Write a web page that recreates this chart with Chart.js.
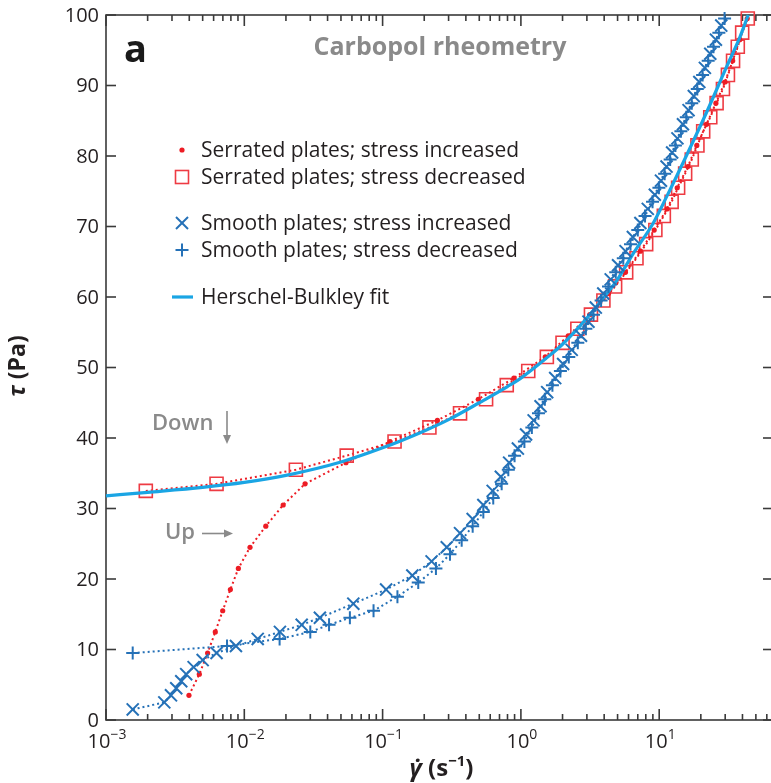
<!DOCTYPE html>
<html>
<head>
<meta charset="utf-8">
<script src="https://cdn.jsdelivr.net/npm/chart.js@4/dist/chart.umd.min.js"></script>
<style>
  html, body { margin: 0; padding: 0; background: #fff; overflow: hidden; }
  canvas { display: block; }
</style>
</head>
<body>
<canvas id="rheo" width="790" height="783" style="width:790px;height:783px"></canvas>
<script>
// Serrated plates, stress ramped up (shear rate in 1/s, stress in Pa)
const serratedUpRate = [0.00398, 0.00473, 0.00543, 0.00617, 0.00698, 0.00793, 0.00906, 0.0110, 0.0143, 0.0191,
  0.0275, 0.0543, 0.113, 0.249, 0.492, 0.89, 1.50, 2.2, 3.15, 4.3, 5.7, 7.3, 9.2, 11.4, 13.5, 16.1, 18.7,
  22.0, 25.7, 29.9, 34.0, 38.2, 43.3];
const serratedUpStress = [3.5, 6.5, 9.5, 12.5, 15.5, 18.5, 21.5, 24.5, 27.5, 30.5, 33.5, 36.5, 39.5, 42.5, 45.5,
  48.5, 51.5, 54.5, 57.5, 60.5, 63.5, 66.5, 69.5, 72.5, 75.5, 78.5, 81.5, 84.5, 87.5, 90.5, 93.5, 96.5, 99.5];

// Serrated plates, stress ramped down
const serratedDownRate = [0.00194, 0.0063, 0.0236, 0.055, 0.122, 0.218, 0.363, 0.56, 0.79, 1.13, 1.54, 2.0,
  2.56, 3.21, 3.95, 4.80, 5.77, 6.85, 8.05, 9.38, 10.8, 12.3, 13.7, 15.4, 17.2, 18.9, 20.8, 23.4, 26.0, 28.9,
  31.4, 34.2, 37.0, 39.8, 43.7];
const serratedDownStress = [32.5, 33.5, 35.5, 37.5, 39.5, 41.5, 43.5, 45.5, 47.5, 49.5, 51.5, 53.5, 55.5, 57.5,
  59.5, 61.5, 63.5, 65.5, 67.5, 69.5, 71.5, 73.5, 75.5, 77.5, 79.5, 81.5, 83.5, 85.5, 87.5, 89.5, 91.5, 93.5,
  95.5, 97.5, 99.5];

// Smooth plates, stress ramped up
const smoothUpRate = [0.00156, 0.00264, 0.00295, 0.00322, 0.0035, 0.0038, 0.0043, 0.0050, 0.0063, 0.0087,
  0.0125, 0.0181, 0.026, 0.0352, 0.0614, 0.106, 0.164, 0.226, 0.291, 0.363, 0.448, 0.535, 0.625, 0.716, 0.822,
  0.951, 1.09, 1.236, 1.387, 1.549, 1.77, 2.02, 2.33, 2.72, 3.08, 3.48, 3.94, 4.46, 5.04, 5.71, 6.45, 7.31,
  8.27, 9.3, 10.3, 11.3, 12.4, 13.55, 14.85, 16.3, 17.8, 19.5, 21.4, 23.4, 25.7, 28.1];
const smoothUpStress = [1.5, 2.5, 3.5, 4.5, 5.5, 6.5, 7.5, 8.5, 9.5, 10.5, 11.5, 12.5, 13.5, 14.5, 16.5, 18.5,
  20.5, 22.5, 24.5, 26.5, 28.5, 30.5, 32.5, 34.5, 36.5, 38.5, 40.5, 42.5, 44.5, 46.5, 48.5, 50.5, 52.5, 54.5,
  56.5, 58.5, 60.5, 62.5, 64.5, 66.5, 68.5, 70.5, 72.5, 74.5, 76.5, 78.5, 80.5, 82.5, 84.5, 86.5, 88.5, 90.5,
  92.5, 94.5, 96.5, 98.5];

// Smooth plates, stress ramped down
const smoothDownRate = [0.00156, 0.0075, 0.018, 0.030, 0.041, 0.058, 0.086, 0.128, 0.181, 0.243, 0.307, 0.373,
  0.448, 0.535, 0.631, 0.726, 0.811, 0.90, 1.06, 1.20, 1.34, 1.49, 1.69, 1.93, 2.22, 2.58, 2.95, 3.35, 3.80,
  4.30, 4.85, 5.50, 6.20, 7.0, 7.9, 8.95, 9.95, 10.95, 12.0, 13.1, 14.35, 15.7, 17.2, 18.85, 20.6, 22.6, 24.7,
  27.0, 29.7];
const smoothDownStress = [9.5, 10.5, 11.5, 12.5, 13.5, 14.5, 15.5, 17.5, 19.5, 21.5, 23.5, 25.5, 27.5, 29.5,
  31.5, 33.5, 35.5, 37.5, 39.5, 41.5, 43.5, 45.5, 47.5, 49.5, 51.5, 53.5, 55.5, 57.5, 59.5, 61.5, 63.5, 65.5,
  67.5, 69.5, 71.5, 73.5, 75.5, 77.5, 79.5, 81.5, 83.5, 85.5, 87.5, 89.5, 91.5, 93.5, 95.5, 97.5, 99.5];

// Herschel-Bulkley fit curve
const fitRate = [0.001, 0.002, 0.005, 0.01, 0.02, 0.05, 0.1, 0.2, 0.3, 0.5, 0.8, 1.0, 1.5, 2.0, 3.0, 4.0, 5.0,
  6.5, 9.0, 11.3, 15.6, 21.9, 30.8, 38.4, 44.0];
const fitStress = [31.8, 32.3, 33.0, 33.7, 34.7, 36.6, 38.6, 41.0, 42.6, 45.0, 47.3, 48.5, 51.2, 53.3, 57.0,
  60.0, 62.5, 66.2, 70.4, 74.2, 79.9, 86.1, 92.7, 96.9, 100.0];

// Axis ticks
const xTickPowers = [-3, -2, -1, 0, 1];
const yTickValues = [0, 10, 20, 30, 40, 50, 60, 70, 80, 90, 100];

const legendLabels = [
  'Serrated plates; stress increased',
  'Serrated plates; stress decreased',
  'Smooth plates; stress increased',
  'Smooth plates; stress decreased',
  'Herschel-Bulkley fit'
];

const FONT = '"Open Sans", "Noto Sans", "DejaVu Sans", sans-serif';
const INK = '#231f20';
const GREY = '#8a8a8a';
const RED = '#ed1c24';
const SQUARE_RED = '#ee3b43';
const BLUE = '#2571b7';
const CYAN = '#1aa5e4';

const zip = (xs, ys) => xs.map((x, i) => ({ x, y: ys[i] }));

const dotted = [2, 3];

const datasets = [
  {
    label: legendLabels[3],
    data: zip(smoothDownRate, smoothDownStress),
    showLine: true, borderColor: BLUE, borderWidth: 2, borderDash: dotted,
    pointStyle: 'cross', pointRadius: 6.5, pointBorderColor: BLUE, pointBorderWidth: 2,
    pointBackgroundColor: BLUE, clip: false, order: 1
  },
  {
    label: legendLabels[2],
    data: zip(smoothUpRate, smoothUpStress),
    showLine: true, borderColor: BLUE, borderWidth: 2, borderDash: dotted,
    pointStyle: 'crossRot', pointRadius: 8.5, pointBorderColor: BLUE, pointBorderWidth: 2,
    pointBackgroundColor: BLUE, clip: false, order: 2
  },
  {
    label: legendLabels[4],
    data: zip(fitRate, fitStress),
    showLine: true, borderColor: CYAN, borderWidth: 3.2, tension: 0.4, cubicInterpolationMode: 'monotone',
    pointRadius: 0, clip: false, order: 3
  },
  {
    label: legendLabels[0],
    data: zip(serratedUpRate, serratedUpStress),
    showLine: true, borderColor: RED, borderWidth: 2, borderDash: dotted,
    pointStyle: 'circle', pointRadius: 2.6, pointBorderWidth: 0, pointBackgroundColor: RED,
    clip: false, order: 4
  },
  {
    label: legendLabels[1],
    data: zip(serratedDownRate, serratedDownStress),
    showLine: true, borderColor: RED, borderWidth: 2, borderDash: dotted,
    pointStyle: 'rect', pointRadius: 9.2, pointBorderColor: SQUARE_RED, pointBorderWidth: 1.6,
    pointBackgroundColor: 'rgba(0,0,0,0)', clip: false, order: 5
  }
];

function line(ctx, x1, y1, x2, y2) {
  ctx.beginPath(); ctx.moveTo(x1, y1); ctx.lineTo(x2, y2); ctx.stroke();
}

function arrow(ctx, x1, y1, x2, y2) {
  const a = Math.atan2(y2 - y1, x2 - x1);
  const h = 9, w = 4;
  ctx.beginPath(); ctx.moveTo(x1, y1);
  ctx.lineTo(x2 - h * Math.cos(a), y2 - h * Math.sin(a)); ctx.stroke();
  ctx.beginPath();
  ctx.moveTo(x2, y2);
  ctx.lineTo(x2 - h * Math.cos(a) + w * Math.sin(a), y2 - h * Math.sin(a) - w * Math.cos(a));
  ctx.lineTo(x2 - h * Math.cos(a) - w * Math.sin(a), y2 - h * Math.sin(a) + w * Math.cos(a));
  ctx.closePath(); ctx.fill();
}

// Writes a run of text pieces starting at x on one baseline; returns total width
function runs(ctx, pieces, x, y, measureOnly) {
  let cx = x;
  for (const p of pieces) {
    ctx.font = p.font;
    if (!measureOnly) ctx.fillText(p.text, cx, y + (p.dy || 0));
    cx += ctx.measureText(p.text).width;
  }
  return cx - x;
}

const framePlugin = {
  id: 'frame',
  beforeDatasetsDraw(chart) {
    const ctx = chart.ctx;
    const { left, right, top, bottom } = chart.chartArea;
    const xs = chart.scales.x, ys = chart.scales.y;
    ctx.save();
    ctx.strokeStyle = '#3a3a3a';
    ctx.lineWidth = 1.6;
    ctx.strokeRect(left, top, right - left, bottom - top);

    // log ticks on bottom and top, pointing inwards
    for (let p = -3; p <= 2; p++) {
      for (let m = 1; m < 10; m++) {
        const v = m * Math.pow(10, p);
        if (v < xs.min || v > xs.max) continue;
        const px = xs.getPixelForValue(v);
        const len = m === 1 ? 11 : 6;
        line(ctx, px, bottom, px, bottom - len);
        line(ctx, px, top, px, top + len);
      }
    }
    // linear ticks on left and right
    for (const v of yTickValues) {
      const py = ys.getPixelForValue(v);
      line(ctx, left, py, left + 10, py);
      line(ctx, right, py, right - 10, py);
    }

    // tick labels
    ctx.fillStyle = INK;
    ctx.textBaseline = 'middle';
    ctx.textAlign = 'right';
    ctx.font = `20px ${FONT}`;
    for (const v of yTickValues) {
      ctx.fillText(String(v), left - 7, ys.getPixelForValue(v) + 1);
    }
    ctx.textAlign = 'left';
    ctx.textBaseline = 'alphabetic';
    for (const p of xTickPowers) {
      const exp = p < 0 ? '\u2212' + (-p) : String(p);
      const pieces = [
        { text: '10', font: `20px ${FONT}` },
        { text: exp, font: `14px ${FONT}`, dy: -9 }
      ];
      const w = runs(ctx, pieces, 0, 0, true);
      const px = xs.getPixelForValue(Math.pow(10, p));
      runs(ctx, pieces, px - w / 2 + 1, bottom + 28, false);
    }

    // axis titles
    const xt = [
      { text: '\u03B3\u0307', font: `italic bold 24px ${FONT}` },
      { text: ' (s', font: `bold 24px ${FONT}` },
      { text: '\u22121', font: `bold 15px ${FONT}`, dy: -10 },
      { text: ')', font: `bold 24px ${FONT}` }
    ];
    const xw = runs(ctx, xt, 0, 0, true);
    runs(ctx, xt, (left + right) / 2 - xw / 2 + 2, 776, false);

    const yt = [
      { text: '\u03C4', font: `italic bold 23px ${FONT}` },
      { text: ' (Pa)', font: `bold 23px ${FONT}` }
    ];
    const yw = runs(ctx, yt, 0, 0, true);
    ctx.save();
    ctx.translate(25, 366);
    ctx.rotate(-Math.PI / 2);
    runs(ctx, yt, -yw / 2, 0, false);
    ctx.restore();

    // panel letter and title
    ctx.fillStyle = '#1a1a1a';
    ctx.font = `bold 38px ${FONT}`;
    ctx.fillText('a', 124, 62);
    ctx.fillStyle = GREY;
    ctx.font = `bold 25px ${FONT}`;
    ctx.textAlign = 'center';
    ctx.textBaseline = 'middle';
    ctx.fillText('Carbopol rheometry', 440, 48);

    // Down / Up annotations
    ctx.textAlign = 'left';
    ctx.font = `600 22px ${FONT}`;
    ctx.fillText('Down', 152, 424);
    ctx.fillText('Up', 165, 533);
    ctx.strokeStyle = GREY;
    ctx.lineWidth = 1.6;
    arrow(ctx, 227, 411, 227, 444);
    arrow(ctx, 202, 533.5, 233, 533.5);
    ctx.restore();
  },
  afterDraw(chart) {
    const ctx = chart.ctx;
    const rows = [150, 177, 223, 250, 297];
    const mx = 182, tx = 201;
    ctx.save();
    // markers
    ctx.fillStyle = RED;
    ctx.beginPath(); ctx.arc(mx, rows[0], 2.6, 0, Math.PI * 2); ctx.fill();
    ctx.strokeStyle = SQUARE_RED; ctx.lineWidth = 1.6;
    ctx.strokeRect(mx - 6.5, rows[1] - 6.5, 13, 13);
    ctx.strokeStyle = BLUE; ctx.lineWidth = 2;
    const d = 6;
    line(ctx, mx - d, rows[2] - d, mx + d, rows[2] + d);
    line(ctx, mx - d, rows[2] + d, mx + d, rows[2] - d);
    line(ctx, mx - 6.5, rows[3], mx + 6.5, rows[3]);
    line(ctx, mx, rows[3] - 6.5, mx, rows[3] + 6.5);
    ctx.strokeStyle = CYAN; ctx.lineWidth = 3.2;
    line(ctx, 172, rows[4], 193, rows[4]);
    // labels
    ctx.fillStyle = INK;
    ctx.font = `21px ${FONT}`;
    ctx.textAlign = 'left';
    ctx.textBaseline = 'middle';
    legendLabels.forEach((t, i) => ctx.fillText(t, tx, rows[i] + 1));
    ctx.restore();
  }
};

new Chart(document.getElementById('rheo'), {
  type: 'scatter',
  data: { datasets },
  options: {
    responsive: false,
    animation: false,
    devicePixelRatio: 1,
    layout: { padding: { left: 106, right: 17, top: 15, bottom: 63 } },
    plugins: { legend: { display: false }, tooltip: { enabled: false }, title: { display: false } },
    scales: {
      x: { type: 'logarithmic', min: 0.001, max: 66.5, display: false },
      y: { type: 'linear', min: 0, max: 100, display: false }
    }
  },
  plugins: [framePlugin]
});
</script>
</body>
</html>
